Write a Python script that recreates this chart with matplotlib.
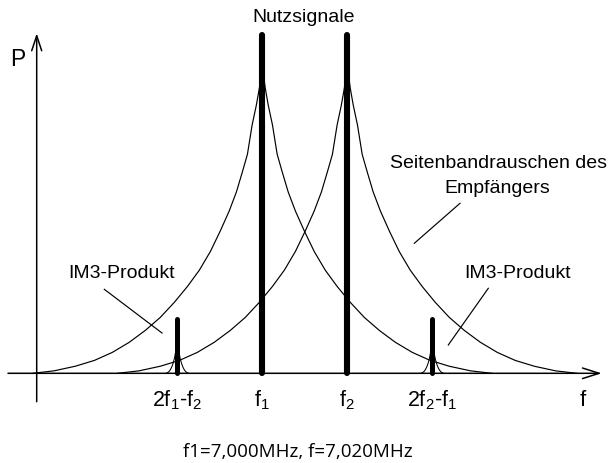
import numpy as np
import matplotlib
matplotlib.use("Agg")
import matplotlib.pyplot as plt

plt.rcParams['font.family'] = ['Liberation Sans', 'DejaVu Sans']
plt.rcParams['mathtext.fontset'] = 'custom'
plt.rcParams['mathtext.rm'] = 'Liberation Sans'
plt.rcParams['mathtext.it'] = 'Liberation Sans'
plt.rcParams['mathtext.default'] = 'regular'

# ---- data (frequency in MHz, power in arbitrary units) ----
f1 = 7.000
f2 = 7.020
signal_freqs = [f1, f2]
signal_power = [0.99, 0.99]
im3_freqs = [2 * f1 - f2, 2 * f2 - f1]
im3_power = [0.159, 0.159]
noise_peak = 0.90
im3_noise_peak = 0.12
# sideband noise profile: offset from carrier (kHz) vs relative level
noise_offset_khz = [0, 0.7, 1.4, 2.4, 3.5, 4.7, 6.1, 7.8, 9.9, 12.2, 14.8,
                    17.6, 20.7, 24.0, 27.5, 31.3, 35.3, 39.5, 44.0, 49.0, 54.0]
noise_level = [1.0, 0.928, 0.873, 0.808, 0.713, 0.655, 0.590, 0.528, 0.463,
               0.397, 0.336, 0.283, 0.231, 0.182, 0.140, 0.101, 0.068, 0.042,
               0.023, 0.008, 0.0]
im3_noise_width_ratio = 0.05
tick_freqs = [2 * f1 - f2, f1, f2, 2 * f2 - f1]
tick_labels = ['2f$_1$-f$_2$', 'f$_1$', 'f$_2$', '2f$_2$-f$_1$']
labels = {
    'signal': 'Nutzsignale',
    'noise1': 'Seitenbandrauschen des',
    'noise2': 'Empfängers',
    'im3': 'IM3-Produkt',
    'p': 'P',
    'f': 'f',
    'foot': 'f1=7,000MHz, f=7,020MHz',
}

W, H = 611, 463
PX_PER_MHZ = 4250.0
X_F1 = 262.3
Y_BASE = 373.3
PX_PER_UNIT = 341.3

fig = plt.figure(figsize=(W / 100, H / 100), dpi=100)
ax = fig.add_axes([0, 0, 1, 1])
ax.set_xlim(f1 - X_F1 / PX_PER_MHZ, f1 + (W - X_F1) / PX_PER_MHZ)
ax.set_ylim((Y_BASE - H) / PX_PER_UNIT, Y_BASE / PX_PER_UNIT)
ax.axis('off')


def px(x, y):
    """figure pixel -> axes fraction"""
    return (x / W, 1 - y / H)


off = np.array(noise_offset_khz) / 1000.0
lev = np.array(noise_level)
xs_shape = np.concatenate([-off[::-1], off[1:]])
ys_shape = np.concatenate([lev[::-1], lev[1:]])

# sideband noise of the wanted signals
for fc in signal_freqs:
    ax.plot(fc + xs_shape, noise_peak * ys_shape, color='black', lw=0.85,
            solid_joinstyle='round', zorder=2)
# small noise skirts of IM3 products
for fc in im3_freqs:
    ax.plot(fc + xs_shape * im3_noise_width_ratio, im3_noise_peak * ys_shape,
            color='black', lw=0.75, zorder=2)

# wanted signals and IM3 products
ax.vlines(signal_freqs, 0, signal_power, color='black', lw=4.4,
          capstyle='round', zorder=3)
ax.vlines(im3_freqs, 0, im3_power, color='black', lw=3.6,
          capstyle='round', zorder=3)

# axes with open arrows
ax.annotate('', xy=px(601.7, Y_BASE), xytext=px(8, Y_BASE),
            xycoords='axes fraction', textcoords='axes fraction',
            arrowprops=dict(arrowstyle='->,head_length=1.2,head_width=0.38',
                            lw=1.1, color='black', shrinkA=0, shrinkB=0),
            zorder=4)
ax.annotate('', xy=px(36.7, 33.3), xytext=px(36.7, 401.7),
            xycoords='axes fraction', textcoords='axes fraction',
            arrowprops=dict(arrowstyle='->,head_length=1.08,head_width=0.36',
                            lw=1.1, color='black', shrinkA=0, shrinkB=0),
            zorder=4)

# tick labels
for fx, lab in zip(tick_freqs, tick_labels):
    ax.text(fx, (Y_BASE - 406.7) / PX_PER_UNIT, lab, ha='center',
            va='baseline', fontsize=15.5)

# texts
ax.text(*px(17.5, 60), labels['p'], transform=ax.transAxes, ha='center',
        va='center', fontsize=16.5)
ax.text(*px(583, 406.5), labels['f'], transform=ax.transAxes, ha='center',
        va='baseline', fontsize=16)
ax.text(*px(304, 21.5), labels['signal'], transform=ax.transAxes,
        ha='center', va='baseline', fontsize=14)
ax.text(*px(499, 168), labels['noise1'], transform=ax.transAxes,
        ha='center', va='baseline', fontsize=14)
ax.text(*px(497.2, 192.7), labels['noise2'], transform=ax.transAxes,
        ha='center', va='baseline', fontsize=14)
ax.text(*px(121.7, 278.3), labels['im3'], transform=ax.transAxes,
        ha='center', va='baseline', fontsize=14)
ax.text(*px(517.5, 278.3), labels['im3'], transform=ax.transAxes,
        ha='center', va='baseline', fontsize=14)
ax.text(*px(298.3, 456.7), labels['foot'], transform=ax.transAxes,
        ha='center', va='baseline', fontsize=13.5,
        family=['Open Sans', 'DejaVu Sans'])

# leader lines
for (xa, ya), (xb, yb) in [((104.3, 289.3), (162, 333)),
                           ((488.3, 288.3), (448.3, 345)),
                           ((460, 203.3), (414.3, 243.3))]:
    a = px(xa, ya)
    b = px(xb, yb)
    ax.plot([a[0], b[0]], [a[1], b[1]], transform=ax.transAxes,
            color='black', lw=0.85)

fig.savefig('out.png', dpi=100)
